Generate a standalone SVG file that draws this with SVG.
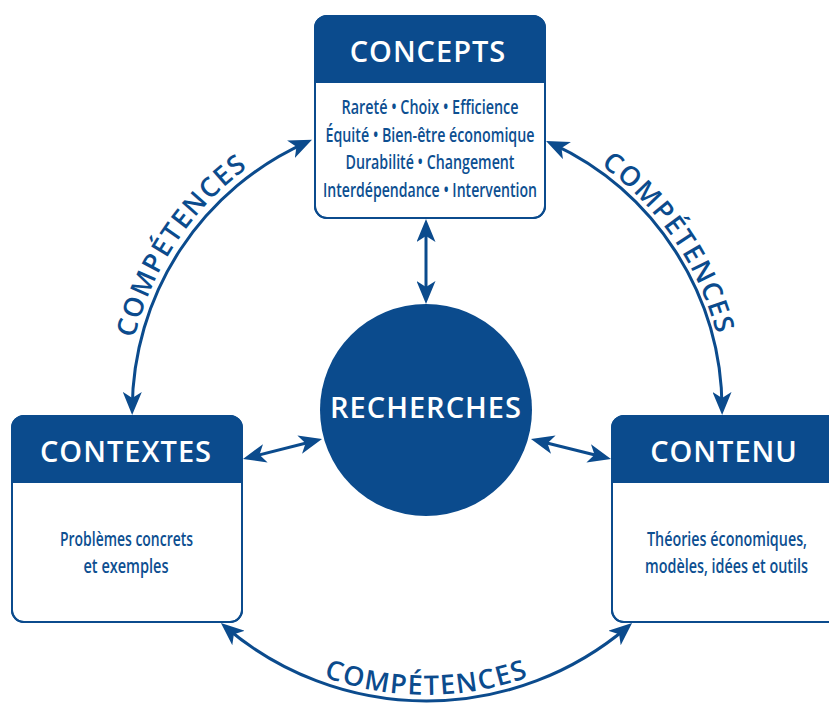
<svg xmlns="http://www.w3.org/2000/svg" width="829" height="704" viewBox="0 0 829 704">
<style>
.box{fill:#ffffff;stroke:#0b4b8d;stroke-width:2}
.hdr{fill:#0b4b8d}
.ht{font-family:"Open Sans","Noto Sans","Liberation Sans",sans-serif;font-weight:600;font-size:29px;fill:#ffffff;text-anchor:middle;letter-spacing:1px}
.bt{font-family:"Open Sans","Noto Sans","Liberation Sans",sans-serif;font-weight:600;font-size:20px;fill:#0d4f91;text-anchor:middle}
.con{fill:none;stroke:#0b4b8d;stroke-width:3;marker-start:url(#ah);marker-end:url(#ah)}
.ct{font-family:"Open Sans","Noto Sans","Liberation Sans",sans-serif;font-weight:600;font-size:27px;fill:#0b4b8d;letter-spacing:1.5px}
</style>
<defs>
<marker id="ah" markerUnits="userSpaceOnUse" markerWidth="23" markerHeight="19" refX="17" refY="9.5" orient="auto-start-reverse">
<path d="M0,0 L23,9.5 L0,19 L6,9.5 Z" fill="#0b4b8d"/>
</marker>
<path id="tpL" d="M126.1,415.8 A300,300 0 0 1 317,129.5"/>
<path id="tpR" d="M532,128.4 A300,300 0 0 1 726,412.7"/>
<path id="tpB" d="M252.7,640.2 A304,304 0 0 0 600.3,640.2"/>
</defs>

<g id="connectors">
<path class="con" d="M426,225 L426,298"/>
<path class="con" d="M248.8,457.5 L316.2,440.5"/>
<path class="con" d="M536.8,440.5 L605.2,457.5"/>
<path class="con" d="M132.2,409 A294,294 0 0 1 306.5,142.3"/>
<path class="con" d="M551.5,143.4 A294,294 0 0 1 722.1,409"/>
<path class="con" d="M225.5,627 A310,310 0 0 0 627.5,627"/>
<text class="ct"><textPath href="#tpL" startOffset="50%" text-anchor="middle">COMPÉTENCES</textPath></text>
<text class="ct"><textPath href="#tpR" startOffset="50%" text-anchor="middle">COMPÉTENCES</textPath></text>
<text class="ct"><textPath href="#tpB" startOffset="50%" text-anchor="middle">COMPÉTENCES</textPath></text>
</g>

<g id="concepts">
<rect class="box" x="315" y="16" width="230" height="202" rx="12"/>
<path class="hdr" d="M315,83 V28 A12,12 0 0 1 327,16 H533 A12,12 0 0 1 545,28 V83 Z"/>
<rect x="315" y="16" width="230" height="202" rx="12" fill="none" stroke="#0b4b8d" stroke-width="2"/>
<text class="ht" x="428" y="62">CONCEPTS</text>
<text class="bt" x="430" y="114" textLength="177" lengthAdjust="spacingAndGlyphs">Rareté • Choix • Efficience</text>
<text class="bt" x="430" y="141.5" textLength="209" lengthAdjust="spacingAndGlyphs">Équité • Bien-être économique</text>
<text class="bt" x="430" y="169" textLength="169" lengthAdjust="spacingAndGlyphs">Durabilité • Changement</text>
<text class="bt" x="430" y="196.5" textLength="214" lengthAdjust="spacingAndGlyphs">Interdépendance • Intervention</text>
</g>

<g id="contextes">
<rect class="box" x="12" y="416" width="230" height="206" rx="12"/>
<path class="hdr" d="M12,483 V428 A12,12 0 0 1 24,416 H230 A12,12 0 0 1 242,428 V483 Z"/>
<rect x="12" y="416" width="230" height="206" rx="12" fill="none" stroke="#0b4b8d" stroke-width="2"/>
<text class="ht" x="126" y="462">CONTEXTES</text>
<text class="bt" x="126.5" y="546" textLength="133" lengthAdjust="spacingAndGlyphs">Problèmes concrets</text>
<text class="bt" x="126" y="573" textLength="85" lengthAdjust="spacingAndGlyphs">et exemples</text>
</g>

<g id="contenu">
<rect class="box" x="612" y="416" width="230" height="206" rx="12"/>
<path class="hdr" d="M612,483 V428 A12,12 0 0 1 624,416 H830 A12,12 0 0 1 842,428 V483 Z"/>
<rect x="612" y="416" width="230" height="206" rx="12" fill="none" stroke="#0b4b8d" stroke-width="2"/>
<text class="ht" x="724" y="462">CONTENU</text>
<text class="bt" x="727" y="546" textLength="160" lengthAdjust="spacingAndGlyphs">Théories économiques,</text>
<text class="bt" x="726.5" y="573" textLength="163" lengthAdjust="spacingAndGlyphs">modèles, idées et outils</text>
</g>

<g id="recherches">
<circle cx="426" cy="410" r="106" fill="#0b4b8d"/>
<text class="ht" x="426" y="418">RECHERCHES</text>
</g>
</svg>
